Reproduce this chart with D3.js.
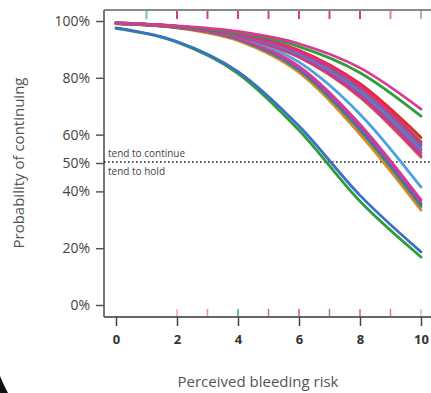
<!DOCTYPE html>
<html>
<head>
<meta charset="utf-8">
<title>Probability of continuing</title>
<script src="https://cdn.jsdelivr.net/npm/d3@7"></script>
<style>
  body { margin: 0; background: #fff; overflow: hidden; }
  svg { display: block; }
  .tick text { font-family: "Open Sans", "DejaVu Sans", sans-serif; fill: #444; }
</style>
</head>
<body>
<svg id="chart" width="431" height="393"></svg>
<script>
// risk levels where the curves were sampled
var riskLevels = [0, 2, 4, 6, 8, 10];

// probability of continuing for each respondent curve
var lowerGroup = [
  { color: "#2e9e3a", values: [0.974, 0.925, 0.815, 0.615, 0.365, 0.169] },
  { color: "#3b6fc8", values: [0.976, 0.928, 0.822, 0.630, 0.386, 0.187] }
];
var middleGroup = [
  { color: "#d98a2b", values: [0.992, 0.976, 0.931, 0.819, 0.601, 0.334] },
  { color: "#b8782e", values: [0.9923, 0.977, 0.935, 0.826, 0.613, 0.345] },
  { color: "#1b9e77", values: [0.9925, 0.9774, 0.9362, 0.828, 0.617, 0.350] },
  { color: "#3b6fc8", values: [0.9926, 0.978, 0.9375, 0.831, 0.622, 0.355] },
  { color: "#9b4f9f", values: [0.9928, 0.9786, 0.939, 0.834, 0.627, 0.360] },
  { color: "#d63a96", values: [0.9931, 0.9795, 0.9414, 0.840, 0.636, 0.370] },
  { color: "#4aa3df", values: [0.993, 0.980, 0.9446, 0.855, 0.672, 0.415] }
];
var upperGroup = [
  { color: "#b8782e", values: [0.9908, 0.9772, 0.945, 0.872, 0.731, 0.520] },
  { color: "#e7298a", values: [0.991, 0.9777, 0.946, 0.874, 0.735, 0.525] },
  { color: "#9b4f9f", values: [0.9914, 0.9785, 0.948, 0.879, 0.743, 0.535] },
  { color: "#d63a96", values: [0.9917, 0.9794, 0.9498, 0.883, 0.750, 0.545] },
  { color: "#3b8fd4", values: [0.9919, 0.9798, 0.9508, 0.885, 0.754, 0.550] },
  { color: "#e7298a", values: [0.9922, 0.9806, 0.9527, 0.889, 0.7615, 0.560] },
  { color: "#17a6a0", values: [0.9923, 0.981, 0.9536, 0.891, 0.7653, 0.565] },
  { color: "#2e9e3a", values: [0.9926, 0.9817, 0.9553, 0.8949, 0.7724, 0.575] },
  { color: "#e8282b", values: [0.992, 0.981, 0.955, 0.897, 0.779, 0.590] },
  { color: "#e7298a", values: [0.9924, 0.9812, 0.954, 0.893, 0.770, 0.570] },
  { color: "#2e9e3a", values: [0.991, 0.981, 0.958, 0.910, 0.818, 0.665] },
  { color: "#d63a96", values: [0.993, 0.983, 0.963, 0.920, 0.835, 0.690] }
];

// rug marks along top and bottom
var topRug = [
  { x: 1, color: "#6cc4b8" }, { x: 2, color: "#d63a96" }, { x: 3, color: "#d63a96" },
  { x: 4, color: "#d63a96" }, { x: 5, color: "#d63a96" }, { x: 6, color: "#d63a96" },
  { x: 7, color: "#d63a96" }, { x: 8, color: "#d63a96" }, { x: 9, color: "#e07ab8" },
  { x: 10, color: "#c9a0d6" }
];
var bottomRug = [
  { x: 2, color: "#f0a0c0" }, { x: 3, color: "#e88ab8" }, { x: 4, color: "#2bb08a" },
  { x: 5, color: "#b070b8" }, { x: 6, color: "#d050a0" }, { x: 7, color: "#b070b8" },
  { x: 8, color: "#c060b0" }, { x: 9, color: "#e070b0" }, { x: 10, color: "#a8c8e8" }
];

var yTicks = [0, 0.2, 0.4, 0.5, 0.6, 0.8, 1];
var xTicks = [0, 2, 4, 6, 8, 10];

var svg = d3.select("#chart");
var frameLeft = 104, frameTop = 10, frameBottom = 317;

var x = d3.scaleLinear().domain([0, 10]).range([116, 421]);
var y = d3.scaleLinear().domain([0, 1]).range([305, 21]);

// frame
svg.append("line").attr("x1", frameLeft).attr("x2", 431).attr("y1", frameTop).attr("y2", frameTop)
  .attr("stroke", "#888").attr("stroke-width", 2);
svg.append("line").attr("x1", frameLeft).attr("x2", frameLeft).attr("y1", frameTop).attr("y2", frameBottom)
  .attr("stroke", "#777").attr("stroke-width", 2);
svg.append("line").attr("x1", frameLeft).attr("x2", 431).attr("y1", frameBottom).attr("y2", frameBottom)
  .attr("stroke", "#666").attr("stroke-width", 2);

// rugs
svg.append("g").selectAll("line").data(topRug).enter().append("line")
  .attr("x1", function(d) { return x(d.x); }).attr("x2", function(d) { return x(d.x); })
  .attr("y1", frameTop + 1).attr("y2", frameTop + 9)
  .attr("stroke", function(d) { return d.color; }).attr("stroke-width", 2);
svg.append("g").selectAll("line").data(bottomRug).enter().append("line")
  .attr("x1", function(d) { return x(d.x); }).attr("x2", function(d) { return x(d.x); })
  .attr("y1", frameBottom - 8).attr("y2", frameBottom - 1)
  .attr("stroke", function(d) { return d.color; }).attr("stroke-width", 1.5);

// axes
var yAxis = svg.append("g").attr("transform", "translate(" + frameLeft + ",0)")
  .call(d3.axisLeft(y).tickValues(yTicks).tickFormat(d3.format(".0%")).tickSize(8).tickPadding(6));
yAxis.select(".domain").remove();
yAxis.selectAll(".tick line").attr("stroke", "#555").attr("stroke-width", 1.5);
yAxis.selectAll(".tick text").style("font-size", "14px");

var xAxis = svg.append("g").attr("transform", "translate(0," + frameBottom + ")")
  .call(d3.axisBottom(x).tickValues(xTicks).tickSize(9).tickPadding(9));
xAxis.select(".domain").remove();
xAxis.selectAll(".tick line").attr("stroke", "#444").attr("stroke-width", 1.5);
xAxis.selectAll(".tick text").style("font-size", "13px").style("font-weight", "bold").style("fill", "#333");

// 50% reference
svg.append("line").attr("x1", frameLeft).attr("x2", 431).attr("y1", y(0.5) - 1).attr("y2", y(0.5) - 1)
  .attr("stroke", "#222").attr("stroke-width", 1.6).attr("stroke-dasharray", "1.6,2.4");
svg.append("text").attr("x", 108).attr("y", y(0.5) - 6).text("tend to continue")
  .style("font-family", "'Open Sans', sans-serif").style("font-size", "10px").style("fill", "#444");
svg.append("text").attr("x", 108).attr("y", y(0.5) + 12).text("tend to hold")
  .style("font-family", "'Open Sans', sans-serif").style("font-size", "10px").style("fill", "#444");

// curves
var line = d3.line()
  .x(function(d, i) { return x(riskLevels[i]); })
  .y(function(d) { return y(d); })
  .curve(d3.curveMonotoneX);

var curves = lowerGroup.concat(middleGroup, upperGroup);
svg.append("g").selectAll("path").data(curves).enter().append("path")
  .attr("d", function(d) { return line(d.values); })
  .attr("fill", "none")
  .attr("stroke", function(d) { return d.color; })
  .attr("stroke-width", 2.8)
  .attr("stroke-linecap", "round");

// titles
svg.append("text").attr("x", 258).attr("y", 387).attr("text-anchor", "middle")
  .text("Perceived bleeding risk")
  .style("font-family", "'Open Sans', sans-serif").style("font-size", "15px").style("fill", "#555");
svg.append("text").attr("transform", "translate(24,163) rotate(-90)").attr("text-anchor", "middle")
  .text("Probability of continuing")
  .style("font-family", "'Open Sans', sans-serif").style("font-size", "15px").style("fill", "#555");

// corner of the photo frame
svg.append("path").attr("d", "M0,376 Q4,386 8,393 L0,393 Z").attr("fill", "#111");
</script>
</body>
</html>
